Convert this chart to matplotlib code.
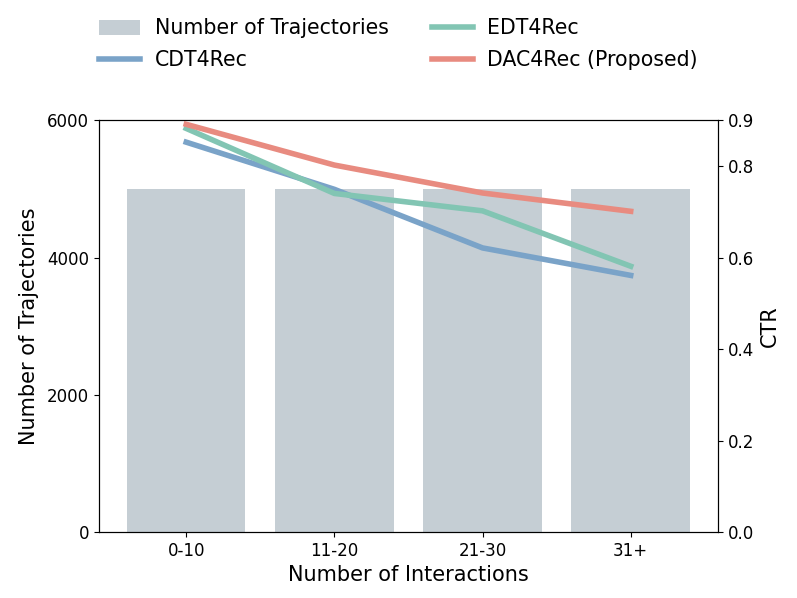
import matplotlib.pyplot as plt
import numpy as np

categories = ["0-10", "11-20", "21-30", "31+"]
n_trajectories = [5000, 5000, 5000, 5000]
ctr_cdt4rec = [0.852, 0.749, 0.621, 0.561]
ctr_edt4rec = [0.882, 0.740, 0.702, 0.581]
ctr_dac4rec = [0.891, 0.802, 0.741, 0.701]

BAR_COLOR = "#c5ced4"
C_CDT = "#7aa3c8"
C_EDT = "#82c5b3"
C_DAC = "#e88b80"

fig = plt.figure(figsize=(7.97, 5.98), dpi=100)
ax = fig.add_axes([0.124, 0.110, 0.777, 0.689])
x = np.arange(len(categories))

bars = ax.bar(x, n_trajectories, width=0.8, color=BAR_COLOR,
              label="Number of Trajectories")
ax.set_ylim(0, 6000)
ax.set_yticks([0, 2000, 4000, 6000])
ax.set_xticks(x)
ax.set_xticklabels(categories)
ax.set_xlabel("Number of Interactions", fontsize=15)
ax.set_ylabel("Number of Trajectories", fontsize=15, labelpad=6)
ax.tick_params(labelsize=12)

ax2 = ax.twinx()
l1, = ax2.plot(x, ctr_cdt4rec, color=C_CDT, lw=4, label="CDT4Rec")
l2, = ax2.plot(x, ctr_edt4rec, color=C_EDT, lw=4, label="EDT4Rec")
l3, = ax2.plot(x, ctr_dac4rec, color=C_DAC, lw=4, label="DAC4Rec (Proposed)")
ax2.set_ylim(0, 0.9)
ax2.set_yticks([0.0, 0.2, 0.4, 0.6, 0.8, 0.9])
ax2.set_ylabel("CTR", fontsize=15)
ax2.tick_params(labelsize=12)

fig.legend([bars, l1, l2, l3],
           ["Number of Trajectories", "CDT4Rec", "EDT4Rec", "DAC4Rec (Proposed)"],
           ncol=2, loc="upper center", bbox_to_anchor=(0.5, 1.0),
           frameon=False, fontsize=14.8, columnspacing=2.1,
           handlelength=2.0, handletextpad=0.7, labelspacing=0.55)

fig.savefig("out.png", dpi=100)
